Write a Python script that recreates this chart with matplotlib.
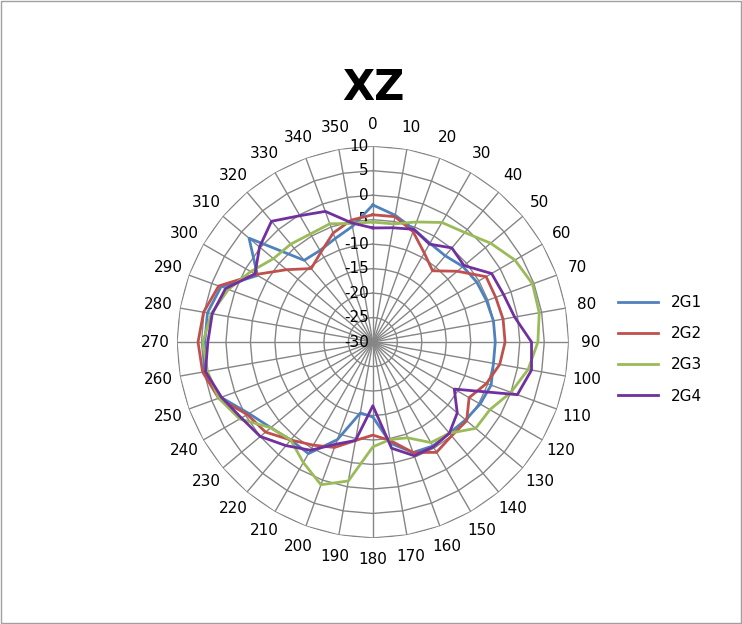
import numpy as np
import matplotlib.pyplot as plt

angles = list(range(0, 360, 10))
g1 = [-2.0, -3.7, -5.5, -6.7, -7.0, -6.0, -5.5, -5.3, -5.0, -5.0, -5.0, -4.3,
      -4.7, -5.3, -5.7, -5.5, -6.0, -9.0, -14.7, -15.3, -8.8, -3.7, -3.9, -2.8,
      -0.8, 3.0, 5.0, 4.3, 4.3, 3.0, -2.8, 3.0, -8.2, -8.4, -7.5, -6.0]
g2 = [-4.0, -4.0, -6.0, -9.0, -11.0, -7.5, -3.3, -3.3, -3.0, -3.0, -3.7, -5.3,
      -7.3, -5.0, -5.0, -4.0, -6.0, -9.6, -11.0, -9.6, -7.1, -5.7, -3.9, -1.4,
      -0.4, 3.5, 5.3, 5.7, 5.1, 3.5, -2.4, -7.0, -10.4, -8.8, -6.3, -4.7]
g3 = [-5.5, -5.5, -3.9, -1.8, -0.8, 1.4, 3.5, 4.7, 4.5, 3.7, 2.2, 0.0,
      -2.4, -2.6, -5.7, -6.3, -9.2, -9.8, -8.6, -1.2, 1.0, -1.6, -3.9, -2.8,
      1.4, 3.5, 4.3, 4.7, 3.5, 1.4, -1.2, -3.5, -3.9, -4.5, -4.3, -5.4]
g4 = [-6.7, -6.3, -5.5, -6.9, -4.9, -5.7, -2.0, -1.6, -0.6, 2.4, 2.9, 1.4,
      -10.8, -7.5, -5.7, -5.3, -5.3, -8.0, -17.0, -9.6, -7.8, -4.5, -2.4, 0.0,
      1.0, 2.9, 4.7, 3.7, 3.3, 2.0, -2.2, 0.2, 2.2, -0.2, -1.6, -5.3]
series = {'2G1': (g1, '#4f81bd'), '2G2': (g2, '#c0504d'),
          '2G3': (g3, '#9bbb59'), '2G4': (g4, '#7030a0')}
rings = [-30, -25, -20, -15, -10, -5, 0, 5, 10]

fig = plt.figure(figsize=(7.42, 6.24), dpi=100)
fig.patches.append(plt.Rectangle((0.002, 0.002), 0.996, 0.996, transform=fig.transFigure,
                                 fill=False, edgecolor='#a0a0a0', lw=1))
ax = fig.add_axes([0.2385, 0.1378, 0.528, 0.628], projection='polar')
ax.set_theta_zero_location('N')
ax.set_theta_direction(-1)
ax.set_ylim(-30, 10)
ax.axis('off')

th = np.deg2rad(angles + [0])
for r in rings[1:]:
    ax.plot(th, [r] * len(th), color='#868686', lw=1, zorder=1)
for a in angles:
    ax.plot([np.deg2rad(a)] * 2, [-30, 10], color='#868686', lw=1, zorder=1)
    ax.text(np.deg2rad(a), 14.4, str(a), ha='center', va='center', fontsize=11)
for r in rings:
    ax.annotate(str(r), (0, r), xytext=(-3, 0), textcoords='offset points',
                ha='right', va='center', fontsize=11)

for name, (vals, col) in series.items():
    ax.plot(th, vals + vals[:1], color=col, lw=2.0, label=name, zorder=3)

fig.text(373 / 742, 1 - 88 / 624, 'XZ', ha='center', va='center',
         fontsize=30, fontweight='bold')
fig.legend(loc='center left', bbox_to_anchor=(0.815, 0.44), frameon=False,
           fontsize=11, handlelength=2.6, labelspacing=1.05)
fig.savefig('out.png')
